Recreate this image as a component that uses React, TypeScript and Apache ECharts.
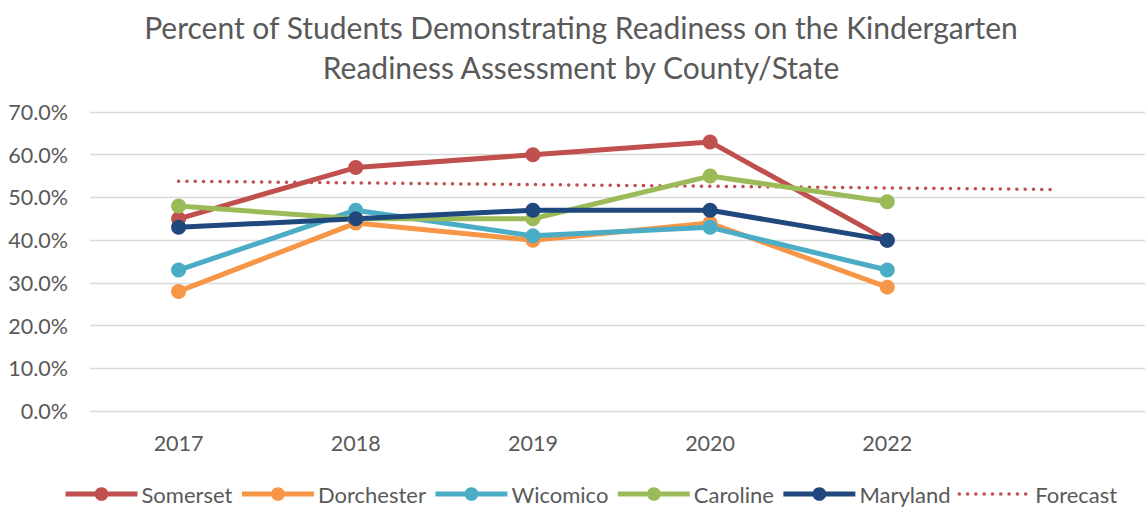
import React, { useEffect, useRef } from "react";
import * as echarts from "echarts";

const years = ["2017", "2018", "2019", "2020", "2022", ""];
const somerset = [45, 57, 60, 63, 40];
const dorchester = [28, 44, 40, 44, 29];
const wicomico = [33, 47, 41, 43, 33];
const caroline = [48, 45, 45, 55, 49];
const maryland = [43, 45, 47, 47, 40];
// Somerset linear trend, drawn from 2017 to the forward-forecast end point
const forecastX = [1, 5.95];
const forecastY = [53.8, 51.85];

const titleText =
  "Percent of Students Demonstrating Readiness on the Kindergarten\nReadiness Assessment by County/State";

const FONT = "Lato, 'Open Sans', sans-serif";
const TEXT = "#595959";

export default function App() {
  const ref = useRef<HTMLDivElement>(null);
  useEffect(() => {
    document.body.style.margin = "0";
    document.body.style.overflow = "hidden";
    document.documentElement.style.overflow = "hidden";
    const chart = echarts.init(ref.current!, undefined, { renderer: "svg" });
    const lineSeries = (name: string, data: number[], color: string) => ({
      name,
      type: "line",
      data,
      xAxisIndex: 0,
      yAxisIndex: 0,
      symbol: "circle",
      symbolSize: 15,
      itemStyle: { color },
      lineStyle: { color, width: 5 },
      z: 3,
    });
    chart.setOption({
      animation: false,
      textStyle: { fontFamily: FONT },
      title: {
        text: titleText,
        left: "center",
        top: 2,
        textStyle: {
          fontFamily: FONT,
          fontSize: 30,
          fontWeight: "normal",
          color: TEXT,
          lineHeight: 40,
        },
      },
      grid: { left: 90, right: 9, top: 112, bottom: 99 },
      xAxis: [
        {
          type: "category",
          data: years,
          boundaryGap: true,
          axisLine: { show: false },
          axisTick: { show: false },
          axisLabel: { color: TEXT, fontSize: 21.5, fontFamily: FONT, margin: 21 },
        },
        {
          type: "value",
          min: 0.5,
          max: 6.5,
          show: false,
        },
      ],
      yAxis: {
        type: "value",
        min: 0,
        max: 70,
        interval: 10,
        axisLine: { show: false },
        axisTick: { show: false },
        splitLine: { lineStyle: { color: "#D9D9D9", width: 1.3 } },
        axisLabel: {
          color: TEXT,
          fontSize: 21.5,
          fontFamily: FONT,
          margin: 22,
          formatter: (v: number) => v.toFixed(1) + "%",
        },
      },
      legend: {
        bottom: 0,
        left: 58,
        itemWidth: 72,
        itemHeight: 17,
        itemGap: 7,
        lineStyle: { width: 5 },
        textStyle: { color: TEXT, fontSize: 22, fontFamily: FONT, padding: [0, 0, 0, -1] },
        data: [
          "Somerset",
          "Dorchester",
          "Wicomico",
          "Caroline",
          "Maryland",
          { name: "Forecast", itemStyle: { opacity: 0 }, lineStyle: { width: 3.5, opacity: 1 } },
        ],
      },
      series: [
        lineSeries("Somerset", somerset, "#C0504D"),
        lineSeries("Dorchester", dorchester, "#F79646"),
        lineSeries("Wicomico", wicomico, "#4BACC6"),
        lineSeries("Caroline", caroline, "#9BBB59"),
        lineSeries("Maryland", maryland, "#1F497D"),
        {
          name: "Forecast",
          type: "line",
          xAxisIndex: 1,
          yAxisIndex: 0,
          data: forecastX.map((x, i) => [x, forecastY[i]]),
          symbol: "none",
          itemStyle: { color: "#C0504D" },
          lineStyle: { color: "#C0504D", width: 3.5, type: [0.1, 8.2], cap: "round" },
          z: 2,
        },
      ],
    });
    return () => chart.dispose();
  }, []);
  return <div ref={ref} style={{ width: 1162, height: 510 }} />;
}
